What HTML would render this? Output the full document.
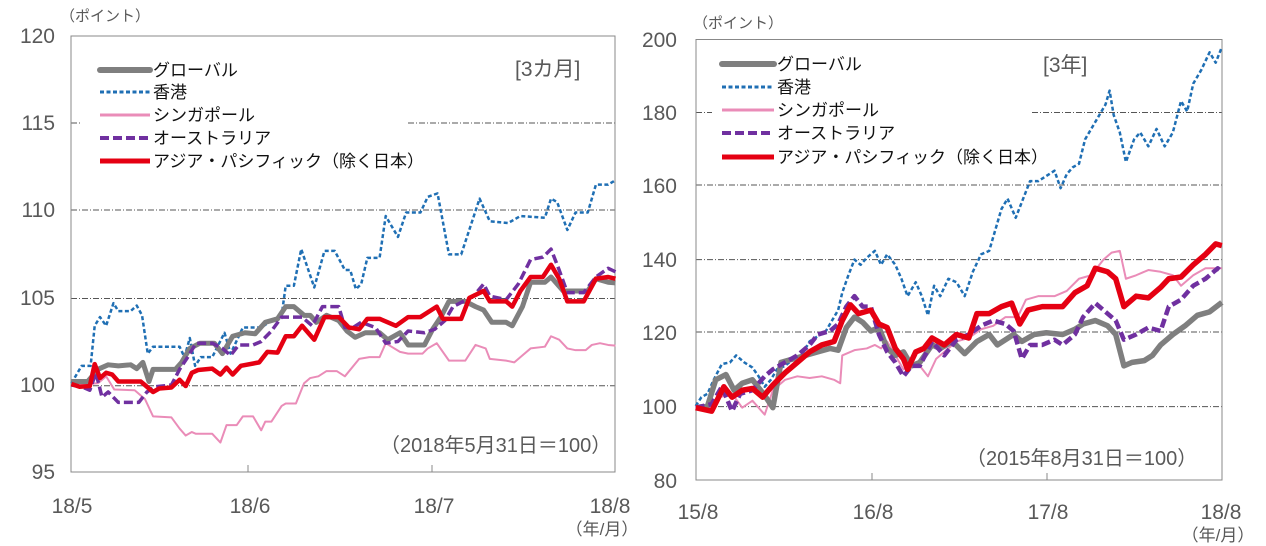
<!DOCTYPE html>
<html><head><meta charset="utf-8"><style>
body{margin:0;background:#fff}
svg{display:block;font-family:"Liberation Sans","Noto Sans CJK JP",sans-serif}
.ax{fill:#595959;font-size:21px}
.lg{fill:#111;font-size:17px}
polyline{fill:none;stroke-linejoin:round;vector-effect:non-scaling-stroke}
.g{stroke:#7f7f7f;stroke-width:5}
.b{stroke:#1f6fb4;stroke-width:2.5;stroke-dasharray:4 2.5}
.p{stroke:#ea8cb8;stroke-width:2}
.u{stroke:#7030a0;stroke-width:3.5;stroke-dasharray:9 4}
.r{stroke:#e50012;stroke-width:4.5}
.R .g,.R .r{stroke-width:5.5}
.R .u{stroke-width:4.5}
.grid{stroke:#555;stroke-width:1;stroke-dasharray:6 2 1 2}
</style></head><body>
<svg width="1266" height="546" viewBox="0 0 1266 546">
<!-- LEFT -->
<text x="60" y="21" class="ax" style="font-size:15px">（ポイント）</text>
<g class="ax" text-anchor="end">
<text x="55" y="43">120</text><text x="55" y="130">115</text><text x="55" y="217">110</text><text x="55" y="305">105</text><text x="55" y="392">100</text><text x="55" y="479">95</text>
</g>
<line class="grid" x1="71" y1="123" x2="82" y2="123"/><line class="grid" x1="408" y1="123" x2="615" y2="123"/>
<line class="grid" x1="71" y1="210" x2="615" y2="210"/>
<line class="grid" x1="71" y1="298.5" x2="615" y2="298.5"/>
<line class="grid" x1="71" y1="385.7" x2="615" y2="385.7"/>
<rect x="71" y="36" width="544" height="436" fill="none" stroke="#888" stroke-width="1"/>
<line x1="248" y1="465" x2="248" y2="472" stroke="#888"/><line x1="432" y1="465" x2="432" y2="472" stroke="#888"/>
<g class="ax" text-anchor="middle">
<text x="72" y="513">18/5</text><text x="250" y="513">18/6</text><text x="434" y="513">18/7</text><text x="610" y="513">18/8</text>
<text x="602" y="535" style="font-size:17px">（年/月）</text>
</g>
<text x="515" y="76" class="ax">[3カ月]</text>
<text x="380" y="452" class="ax" style="font-size:20px">（2018年5月31日＝100）</text>
<g transform="scale(0.40816,0.34843)">
<polyline class="p" points="175,1105 240,1100 260,1080 280,1118 330,1120 355,1145 375,1195 420,1198 440,1230 455,1250 470,1240 480,1245 520,1245 540,1270 555,1220 580,1220 595,1195 620,1195 640,1235 650,1210 665,1210 690,1165 700,1158 725,1158 745,1100 760,1085 780,1080 800,1065 825,1065 845,1080 880,1030 905,1025 930,1025 945,985 980,1010 1000,1015 1035,1015 1048,1000 1070,985 1100,1035 1140,1035 1165,990 1190,1000 1200,1030 1240,1035 1260,1040 1280,1020 1300,1000 1335,995 1350,965 1370,975 1390,1000 1410,1005 1435,1005 1450,990 1470,985 1490,990 1508,992"/>
<polyline class="b" points="175,1100 200,1050 222,1050 232,935 245,910 260,935 278,870 290,893 320,893 335,877 348,905 362,1015 375,995 440,995 452,1025 465,970 478,1050 492,1025 520,1025 550,955 565,1015 595,940 640,940 665,920 690,905 700,820 720,820 738,715 770,825 795,720 820,720 845,775 858,775 872,830 885,815 900,740 930,740 945,620 975,680 995,610 1030,610 1048,565 1072,555 1100,730 1130,730 1175,570 1200,635 1245,640 1275,620 1335,625 1350,570 1365,580 1390,660 1410,610 1440,610 1460,530 1490,530 1508,517"/>
<polyline class="g" points="175,1095 215,1095 240,1060 265,1047 290,1050 320,1047 335,1058 350,1040 365,1095 375,1060 430,1060 445,1040 465,1000 490,985 525,985 545,1015 570,965 600,955 625,958 650,925 680,915 700,880 720,880 745,905 760,905 775,925 800,905 830,920 850,950 870,968 895,955 930,955 950,975 980,955 1000,990 1040,990 1060,945 1080,910 1100,865 1140,865 1165,880 1185,890 1205,925 1240,925 1255,935 1280,880 1300,810 1335,810 1350,795 1380,835 1420,835 1440,835 1460,800 1490,810 1508,812"/>
<polyline class="u" points="175,1105 200,1110 220,1120 235,1070 250,1140 265,1125 290,1155 340,1155 360,1125 380,1110 420,1105 440,1060 460,1025 480,985 520,985 545,1000 565,1020 585,990 620,990 640,980 665,950 690,910 740,910 765,935 790,880 830,880 845,940 865,940 885,925 920,940 945,985 975,980 1000,950 1040,955 1065,945 1090,920 1110,880 1160,850 1185,815 1200,850 1240,860 1270,815 1300,745 1330,738 1350,715 1370,775 1390,840 1430,840 1460,795 1490,770 1508,780"/>
<polyline class="r" points="175,1102 195,1110 220,1108 232,1045 245,1085 260,1070 275,1075 290,1095 345,1095 355,1105 375,1125 390,1115 420,1112 440,1090 455,1108 470,1070 485,1062 520,1058 540,1075 555,1055 570,1075 590,1050 635,1040 655,1010 680,1012 700,965 720,965 740,935 770,975 795,910 830,910 855,940 880,945 900,915 930,915 970,935 1000,910 1030,910 1070,880 1085,915 1130,915 1150,855 1185,835 1200,865 1240,865 1255,880 1275,835 1300,795 1330,795 1350,760 1370,800 1390,865 1430,865 1460,800 1490,795 1508,800"/>
</g>
<line x1="100" y1="70" x2="150" y2="70" stroke="#7f7f7f" stroke-width="6" stroke-linecap="round"/>
<line x1="100" y1="92" x2="150" y2="92" stroke="#1f6fb4" stroke-width="3" stroke-dasharray="4 2.5"/>
<line x1="100" y1="115" x2="150" y2="115" stroke="#ea8cb8" stroke-width="3"/>
<line x1="100" y1="138" x2="150" y2="138" stroke="#7030a0" stroke-width="4" stroke-dasharray="9 4"/>
<line x1="100" y1="161" x2="150" y2="161" stroke="#e50012" stroke-width="5"/>
<g class="lg"><text x="153" y="76">グローバル</text><text x="153" y="98">香港</text><text x="153" y="121">シンガポール</text><text x="153" y="144">オーストラリア</text><text x="153" y="167">アジア・パシフィック（除く日本）</text></g>

<!-- RIGHT -->
<text x="693" y="28" class="ax" style="font-size:15px">（ポイント）</text>
<g class="ax" text-anchor="end">
<text x="677" y="47">200</text><text x="677" y="120">180</text><text x="677" y="193">160</text><text x="677" y="267">140</text><text x="677" y="340">120</text><text x="677" y="414">100</text><text x="677" y="488">80</text>
</g>
<line class="grid" x1="696" y1="112.5" x2="712" y2="112.5"/><line class="grid" x1="1032" y1="112.5" x2="1222" y2="112.5"/>
<line class="grid" x1="696" y1="185" x2="1222" y2="185"/>
<line class="grid" x1="696" y1="259.6" x2="1222" y2="259.6"/>
<line class="grid" x1="696" y1="332" x2="1222" y2="332"/>
<line class="grid" x1="696" y1="406.6" x2="1222" y2="406.6"/>
<rect x="696" y="39.5" width="526" height="440.5" fill="none" stroke="#888" stroke-width="1"/>
<line x1="872" y1="473" x2="872" y2="480" stroke="#888"/><line x1="1047" y1="473" x2="1047" y2="480" stroke="#888"/>
<g class="ax" text-anchor="middle">
<text x="698" y="519">15/8</text><text x="873" y="519">16/8</text><text x="1048" y="519">17/8</text><text x="1221" y="519">18/8</text>
<text x="1218" y="541" style="font-size:17px">（年/月）</text>
</g>
<text x="1043" y="72" class="ax">[3年]</text>
<text x="966" y="465" class="ax" style="font-size:20px">（2015年8月31日＝100）</text>
<g class="R" transform="translate(630,0) scale(0.40816,0.34843)">
<polyline class="p" points="161,1170 200,1170 220,1140 250,1130 275,1170 300,1150 330,1190 350,1120 380,1090 410,1080 440,1085 470,1080 500,1090 515,1100 520,1020 550,1005 580,1000 600,990 615,1000 630,980 650,1020 670,1060 690,1040 710,1050 730,1080 750,1030 770,1010 800,980 830,970 860,945 890,935 920,910 950,910 970,860 1000,850 1040,850 1070,835 1100,800 1130,790 1160,745 1180,725 1200,720 1215,800 1240,790 1270,775 1300,780 1330,790 1350,820 1380,790 1410,770 1450,770"/>
<polyline class="b" points="161,1165 175,1140 190,1130 205,1090 225,1045 245,1040 260,1020 280,1040 300,1055 315,1080 330,1110 345,1090 360,1060 380,1050 400,1030 420,1020 440,980 460,965 480,950 495,920 510,890 520,840 535,790 550,745 565,760 580,740 600,720 615,760 630,730 650,760 665,800 680,850 700,810 715,850 730,905 745,820 760,850 780,800 800,810 820,850 840,780 860,730 880,720 890,680 910,600 925,570 945,625 960,580 980,520 1000,520 1020,505 1040,490 1055,540 1070,500 1085,480 1100,470 1115,400 1130,370 1150,330 1165,300 1175,260 1185,330 1200,380 1215,465 1235,400 1250,380 1270,420 1290,370 1310,420 1330,380 1350,290 1365,320 1380,240 1400,200 1420,150 1435,180 1450,135"/>
<polyline class="g" points="161,1170 190,1165 210,1090 235,1075 255,1120 275,1100 300,1090 330,1135 350,1170 370,1040 400,1030 430,1020 460,1010 490,1000 510,1005 530,940 550,910 570,925 590,950 610,940 630,1000 650,1020 670,1010 690,1050 710,1040 740,990 760,1000 790,980 820,1015 850,980 880,960 900,990 920,975 940,960 960,980 990,960 1020,955 1060,960 1090,945 1110,930 1140,920 1170,935 1190,960 1210,1050 1230,1040 1260,1035 1280,1020 1300,990 1330,960 1360,935 1390,905 1420,895 1450,868"/>
<polyline class="u" points="161,1170 200,1160 225,1110 250,1180 270,1130 300,1120 330,1080 350,1060 380,1040 410,1020 440,990 460,960 490,950 510,930 530,880 550,850 570,880 590,880 610,960 630,1010 650,1040 670,1080 690,1050 710,1050 740,980 770,1020 800,975 830,960 860,935 890,920 920,930 940,950 960,1030 980,990 1010,990 1040,975 1060,990 1090,960 1110,910 1140,870 1160,890 1190,920 1210,975 1240,960 1270,940 1300,950 1320,880 1350,860 1380,820 1410,800 1440,770 1450,780"/>
<polyline class="r" points="161,1170 200,1180 230,1110 250,1140 275,1120 300,1115 325,1140 350,1105 380,1070 410,1040 440,1010 470,990 500,980 520,920 540,875 560,900 590,890 610,930 630,940 650,1000 670,1030 680,1060 700,1010 720,1000 740,970 770,990 800,960 830,970 850,900 880,900 910,880 935,870 955,930 975,890 1010,880 1040,880 1060,880 1090,840 1120,820 1140,770 1170,780 1190,800 1210,880 1240,850 1270,855 1300,825 1320,800 1350,795 1380,760 1410,730 1435,700 1450,705"/>
</g>
<line x1="722" y1="64" x2="774" y2="64" stroke="#7f7f7f" stroke-width="6" stroke-linecap="round"/>
<line x1="722" y1="87" x2="774" y2="87" stroke="#1f6fb4" stroke-width="3" stroke-dasharray="4 2.5"/>
<line x1="722" y1="110" x2="774" y2="110" stroke="#ea8cb8" stroke-width="3"/>
<line x1="722" y1="133" x2="774" y2="133" stroke="#7030a0" stroke-width="4" stroke-dasharray="9 4"/>
<line x1="722" y1="157" x2="774" y2="157" stroke="#e50012" stroke-width="5"/>
<g class="lg"><text x="777" y="70">グローバル</text><text x="777" y="93">香港</text><text x="777" y="116">シンガポール</text><text x="777" y="139">オーストラリア</text><text x="777" y="163">アジア・パシフィック（除く日本）</text></g>
</svg>
</body></html>
